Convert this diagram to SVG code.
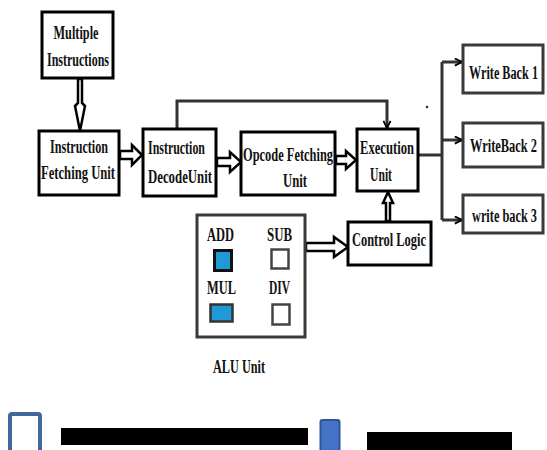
<svg xmlns="http://www.w3.org/2000/svg" width="547" height="450" viewBox="0 0 547 450">
<style>
.box{fill:#fff;stroke:#000;stroke-width:3}
.gbox{fill:#fff;stroke:#3a3a3a;stroke-width:3}
.t{font-family:"Liberation Serif","Times New Roman",serif;font-weight:bold;font-size:18px;fill:#111}
.ha{fill:#fff;stroke:#000;stroke-width:2.5;stroke-linejoin:miter}
.ln{fill:none;stroke:#333;stroke-width:3}
</style>
<defs>
<marker id="v" viewBox="0 0 10 10" refX="9" refY="5" markerWidth="9" markerHeight="9" markerUnits="userSpaceOnUse" orient="auto">
<path d="M1,1 L9,5 L1,9" fill="none" stroke="#000" stroke-width="2"/>
</marker>
</defs>
<rect width="547" height="450" fill="#fff"/>

<g id="connectors">
<polygon class="ha" points="78,79 82,79 82,103 85,106 80,131 75,106 78,103"/>
<polygon class="ha" points="120,151 132,151 132,145 142,155 132,165 132,159 120,159"/>
<polygon class="ha" points="217,158 230,158 230,152 241,162 230,172 230,166 217,166"/>
<polygon class="ha" points="336,156 346,156 346,151 356,160 346,169 346,164 336,164"/>
<polygon class="ha" points="306,243 334,243 334,237 348,247 334,257 334,251 306,251"/>
<polygon class="ha" points="386,221 386,203 383,203 388,192 393,203 390,203 390,221"/>
<polyline class="ln" points="177,128 177,101 387,101 387,128" marker-end="url(#v)"/>
<line class="ln" x1="419" y1="155" x2="442" y2="155"/>
<line class="ln" x1="442" y1="62" x2="442" y2="220"/>
<line class="ln" x1="442" y1="62" x2="462" y2="62" marker-end="url(#v)"/>
<line class="ln" x1="442" y1="140" x2="462" y2="140" marker-end="url(#v)"/>
<line class="ln" x1="442" y1="220" x2="462" y2="220" marker-end="url(#v)"/>
</g>

<g id="multiple-instructions">
<rect class="box" x="42" y="12" width="71" height="66"/>
<text class="t" x="76" y="39" text-anchor="middle" textLength="45" lengthAdjust="spacingAndGlyphs">Multiple</text>
<text class="t" x="78" y="66" text-anchor="middle" textLength="62" lengthAdjust="spacingAndGlyphs">Instructions</text>
</g>

<g id="fetching-unit">
<rect class="box" x="39" y="131" width="80" height="64"/>
<text class="t" x="79" y="153" text-anchor="middle" textLength="58" lengthAdjust="spacingAndGlyphs">Instruction</text>
<text class="t" x="78" y="179" text-anchor="middle" textLength="74" lengthAdjust="spacingAndGlyphs">Fetching Unit</text>
</g>

<g id="decode-unit">
<rect class="box" x="143" y="129" width="73" height="67"/>
<text class="t" x="148" y="154" textLength="57" lengthAdjust="spacingAndGlyphs">Instruction</text>
<text class="t" x="148" y="183" textLength="64" lengthAdjust="spacingAndGlyphs">DecodeUnit</text>
</g>

<g id="opcode-fetching-unit">
<rect class="box" x="241" y="132" width="94" height="63"/>
<text class="t" x="243" y="161" textLength="90" lengthAdjust="spacingAndGlyphs">Opcode Fetching</text>
<text class="t" x="295" y="187" text-anchor="middle" textLength="24" lengthAdjust="spacingAndGlyphs">Unit</text>
</g>

<g id="execution-unit">
<rect class="box" x="357" y="129" width="61" height="62"/>
<text class="t" x="360" y="154" textLength="54" lengthAdjust="spacingAndGlyphs">Execution</text>
<text class="t" x="370" y="181" textLength="22" lengthAdjust="spacingAndGlyphs">Unit</text>
</g>

<g id="write-back-1">
<rect class="gbox" x="463" y="45" width="80" height="48"/>
<text class="t" x="469" y="79" textLength="69" lengthAdjust="spacingAndGlyphs">Write Back 1</text>
</g>

<g id="write-back-2">
<rect class="gbox" x="463" y="123" width="80" height="44"/>
<text class="t" x="470" y="152" textLength="67" lengthAdjust="spacingAndGlyphs">WriteBack 2</text>
</g>

<g id="write-back-3">
<rect class="gbox" x="463" y="195" width="80" height="38"/>
<text class="t" x="472" y="222" textLength="65" lengthAdjust="spacingAndGlyphs">write back 3</text>
</g>

<g id="control-logic">
<rect class="box" x="348" y="222" width="83" height="43"/>
<text class="t" x="352" y="246" textLength="74" lengthAdjust="spacingAndGlyphs">Control Logic</text>
</g>

<g id="alu-unit">
<rect class="gbox" x="197" y="215" width="108" height="122" stroke="#444"/>
<text class="t" x="207" y="241" textLength="27" lengthAdjust="spacingAndGlyphs">ADD</text>
<text class="t" x="267" y="241" textLength="25" lengthAdjust="spacingAndGlyphs">SUB</text>
<text class="t" x="207" y="294" textLength="29" lengthAdjust="spacingAndGlyphs">MUL</text>
<text class="t" x="269" y="294" textLength="21" lengthAdjust="spacingAndGlyphs">DIV</text>
<rect x="214.5" y="250.5" width="17" height="20" fill="#1e9ad6" stroke="#111" stroke-width="3"/>
<rect x="271.5" y="249.5" width="17" height="19" fill="#fff" stroke="#444" stroke-width="2.5"/>
<rect x="210.5" y="304.5" width="22" height="17" fill="#1e9ad6" stroke="#333" stroke-width="2.5"/>
<rect x="272.5" y="304.5" width="17" height="20" fill="#fff" stroke="#444" stroke-width="2.5"/>
<text class="t" x="213" y="373" textLength="52" lengthAdjust="spacingAndGlyphs">ALU Unit</text>
</g>

<circle cx="427" cy="107" r="1.3" fill="#333"/>

<g id="legend">
<rect x="10" y="414" width="30" height="40" rx="2" fill="#fff" stroke="#41689c" stroke-width="4"/>
<rect x="61" y="428" width="247" height="17" fill="#000"/>
<rect x="320.5" y="420" width="19" height="34" rx="2" fill="#4472c4" stroke="#2f5597" stroke-width="2"/>
<rect x="367" y="432" width="145" height="18" fill="#000"/>
</g>
</svg>
